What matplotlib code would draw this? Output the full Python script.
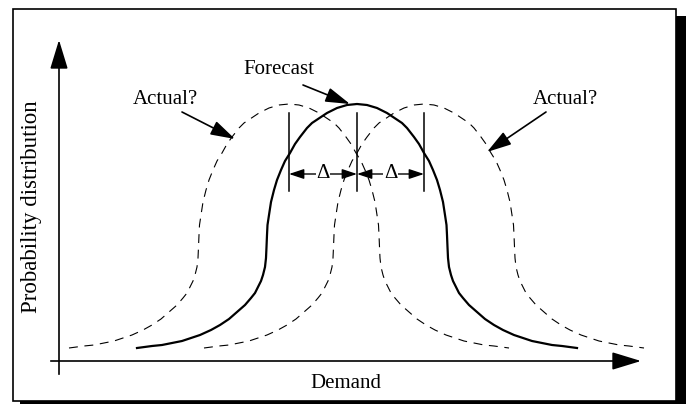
import matplotlib
matplotlib.use("Agg")
import matplotlib.pyplot as plt
from matplotlib.patches import Rectangle

# half of the bell shape (offset from centre, pixel row)
half_dx = [0, 10, 20, 30, 45, 50, 57, 62, 67, 72, 76, 80, 83, 86, 88, 89.5, 90, 90.5,
           91, 92, 94, 96, 99, 102, 106, 112, 120, 128, 137, 146, 157, 166, 175, 185,
           195, 205, 220]
half_y = [104, 105, 108, 113, 123, 128, 137, 144, 153, 161, 170, 180, 190, 202, 215,
          225, 235, 247, 258, 267, 275, 281, 287, 293, 298, 305, 312, 319, 325, 330,
          335, 338, 341, 343, 345, 346, 348]

forecast_centre = 357
actual_centres = [289, 424]
delta_marks = [289, 357, 424]

fig = plt.figure(figsize=(6.88, 4.04), dpi=100)
ax = fig.add_axes([0, 0, 1, 1])
ax.set_xlim(0, 688)
ax.set_ylim(404, 0)
ax.axis('off')

font = dict(family='Liberation Serif', color='black')

# frame with drop shadow
ax.add_patch(Rectangle((20, 16), 666, 390, facecolor='black', edgecolor='none', zorder=0))
ax.add_patch(Rectangle((13, 9), 663, 392, facecolor='white', edgecolor='black', lw=1.2, zorder=1))

def make_curve(c):
    xs = [c - d for d in half_dx[::-1]] + [c + d for d in half_dx[1:]]
    ys = half_y[::-1] + half_y[1:]
    return xs, ys

# axes
ax.plot([59, 59], [374, 60], color='k', lw=1.2, zorder=3)
ax.annotate('', xy=(59, 40), xytext=(59, 66), zorder=3,
            arrowprops=dict(arrowstyle='-|>,head_length=1.8,head_width=0.55', mutation_scale=10,
                            color='k', lw=1.2, shrinkA=0, shrinkB=0))
ax.plot([51, 620], [361, 361], color='k', lw=1.2, zorder=3)
ax.annotate('', xy=(641, 361), xytext=(615, 361), zorder=3,
            arrowprops=dict(arrowstyle='-|>,head_length=1.8,head_width=0.55', mutation_scale=10,
                            color='k', lw=1.2, shrinkA=0, shrinkB=0))

# curves
for c in actual_centres:
    xs, ys = make_curve(c)
    ax.plot(xs, ys, color='k', lw=0.8, dashes=(8, 6), zorder=2)
xs, ys = make_curve(forecast_centre)
ax.plot(xs, ys, color='k', lw=1.6, zorder=3)

# delta marks
for xm in delta_marks:
    ax.plot([xm, xm], [113, 191], color='k', lw=1.1, zorder=3)
for a, b in zip(delta_marks[:-1], delta_marks[1:]):
    ax.annotate('', xy=(a, 174), xytext=(b, 174), zorder=3,
                arrowprops=dict(arrowstyle='<|-|>,head_length=0.9,head_width=0.3', mutation_scale=10,
                                color='k', lw=1.0, shrinkA=0, shrinkB=0))
    ax.text((a + b) / 2, 174, '\u0394', ha='center', va='center', fontsize=15, zorder=4,
            bbox=dict(facecolor='white', edgecolor='none', pad=0.5), **font)

# annotations
pointer = dict(arrowstyle='-|>,head_length=1.5,head_width=0.45', mutation_scale=10,
               color='k', lw=1.2, shrinkA=0, shrinkB=0)
ax.text(279, 69, 'Forecast', ha='center', va='center', fontsize=15, **font)
ax.annotate('', xy=(350, 104), xytext=(303, 85), arrowprops=pointer, zorder=4)
ax.text(165, 99, 'Actual?', ha='center', va='center', fontsize=15, **font)
ax.annotate('', xy=(235, 139), xytext=(182, 112), arrowprops=pointer, zorder=4)
ax.text(565, 99, 'Actual?', ha='center', va='center', fontsize=15, **font)
ax.annotate('', xy=(487, 152), xytext=(546, 112), arrowprops=pointer, zorder=4)

ax.text(346, 383, 'Demand', ha='center', va='center', fontsize=15, **font)
ax.text(32, 207, 'Probability distribution', ha='center', va='center', rotation=90,
        fontsize=16.5, **font)

fig.savefig('out.png', dpi=100)
